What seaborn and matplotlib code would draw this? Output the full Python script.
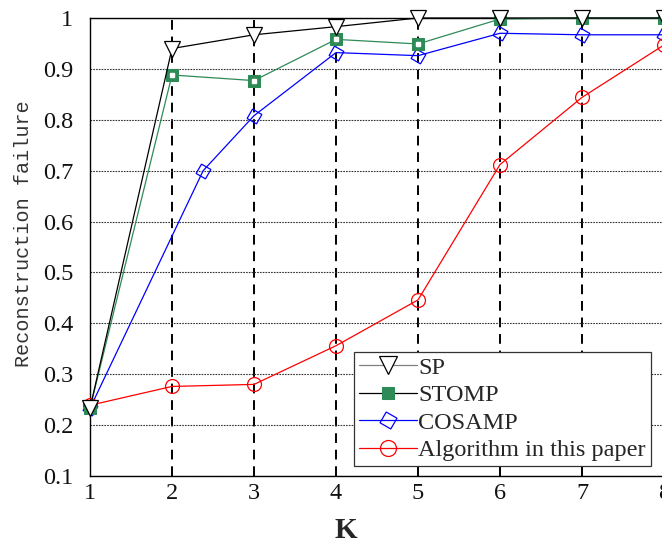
import matplotlib
matplotlib.use("Agg")
import matplotlib.pyplot as plt
import seaborn as sns
import numpy as np

# ---- data ----
K = [1, 2, 3, 4, 5, 6, 7, 8]
sp = [0.233, 0.940, 0.967, 0.983, 1.0, 1.0, 1.0, 1.0]
stomp = [0.233, 0.888, 0.877, 0.958, 0.949, 0.998, 1.0, 1.0]
cosamp_k = [1, 2.38, 3, 4, 5, 6, 7, 8]
cosamp = [0.233, 0.700, 0.808, 0.932, 0.926, 0.970, 0.967, 0.967]
alg = [0.239, 0.276, 0.280, 0.356, 0.446, 0.712, 0.844, 0.947]
yticks = [0.1, 0.2, 0.3, 0.4, 0.5, 0.6, 0.7, 0.8, 0.9, 1.0]
ytick_labels = ["0.1", "0.2", "0.3", "0.4", "0.5", "0.6", "0.7", "0.8", "0.9", "1"]

sns.set_style("white")
plt.rcParams['font.family'] = ['Liberation Serif', 'DejaVu Serif']

fig = plt.figure(figsize=(6.62, 5.45), dpi=100)
ax = fig.add_axes([90/662, 69/545, 574/662, 458/545])

green = "#2e8b57"
sns.lineplot(x=K, y=sp, ax=ax, color="black", lw=0.9, marker="v", markersize=11,
             markerfacecolor="white", markeredgecolor="black", markeredgewidth=0.9,
             clip_on=False, label="SP", zorder=5)
sns.lineplot(x=K, y=stomp, ax=ax, color=green, lw=0.9, marker="s", markersize=8,
             markerfacecolor=green, markeredgecolor=green,
             clip_on=False, label="STOMP", zorder=4)
ax.plot(K, stomp, ls="none", marker="s", ms=2.5, color="white", zorder=4.5, clip_on=False)
sns.lineplot(x=cosamp_k, y=cosamp, ax=ax, color="blue", lw=0.9, marker=(4, 0, 15), markersize=11,
             markerfacecolor="none", markeredgecolor="blue", markeredgewidth=0.9,
             clip_on=False, label="COSAMP", zorder=3, sort=False)
sns.lineplot(x=K, y=alg, ax=ax, color="red", lw=0.9, marker="o", markersize=10,
             markerfacecolor="none", markeredgecolor="red", markeredgewidth=0.9,
             clip_on=False, label="Algorithm in this paper", zorder=3)

ax.set_xlim(1, 8)
ax.set_ylim(0.1, 1.0)
ax.set_xticks(K)
ax.set_yticks(yticks)
ax.set_yticklabels(ytick_labels)
ax.tick_params(axis="both", length=0, labelsize=17.5, colors="#111111")
ax.tick_params(axis="y", pad=12)
ax.tick_params(axis="x", pad=5)

ax.xaxis.grid(True, color="black", lw=1.4, linestyle=(0, (5, 3.5)))
ax.yaxis.grid(True, color="#333333", lw=0.8, linestyle=(0, (1.5, 1)))
ax.set_axisbelow(True)

for s in ax.spines.values():
    s.set_color("black")
    s.set_linewidth(1.0)
ax.spines["right"].set_visible(False)

ax.set_xlabel("K", fontsize=21, fontweight="bold")
ax.xaxis.set_label_coords(0.445, -0.09)
ax.set_ylabel("Reconstruction failure", fontsize=14.5, family="Liberation Mono", color="#333333")
ax.yaxis.set_label_coords(-0.10, 0.53)

leg = ax.legend(loc="lower left", bbox_to_anchor=(0.46, 0.022), fontsize=17.5,
                frameon=True, fancybox=False, edgecolor="#333333", framealpha=1,
                handlelength=2.4, handletextpad=0.05, borderpad=0.2, labelspacing=0.22,
                borderaxespad=0, markerscale=1.15)
leg.get_frame().set_linewidth(0.9)
handles = leg.legend_handles
handles[0].set_color("gray")
handles[0].set_markeredgecolor("black")
handles[1].set_color("black")
handles[1].set_markerfacecolor(green)
handles[1].set_markeredgecolor(green)

fig.savefig("out.png", dpi=100)
